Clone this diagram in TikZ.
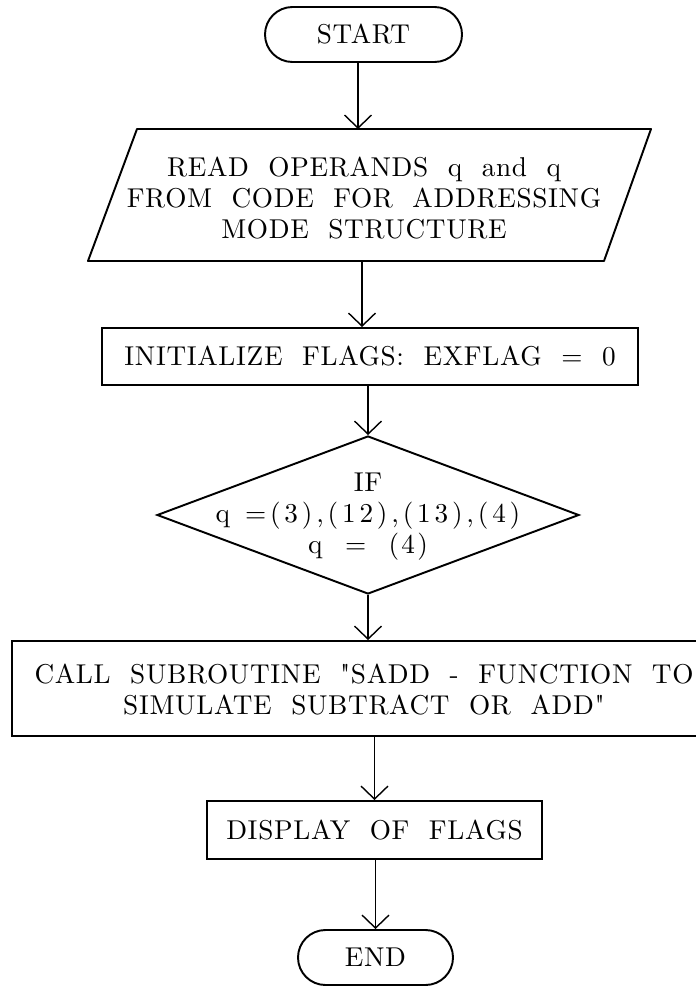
\documentclass[tikz,border=0pt]{standalone}
\usepackage{fontspec}
\usetikzlibrary{arrows.meta,shapes.geometric}

% Spaced-out serif lettering used for all chart labels
\newfontfamily\chartfam{lmroman10-regular.otf}[LetterSpace=2.5,WordSpace=2]
\newcommand\chartfont{\chartfam\fontsize{15.5}{17.6}\selectfont}

\begin{document}
\begin{tikzpicture}[x=0.2mm,y=-0.2mm,
  every node/.style={font=\chartfont, inner sep=0pt},
  terminal/.style={draw, line width=1.1pt, rounded corners=5.5mm, minimum height=11mm},
  procbox/.style={draw, line width=1.1pt},
  decision/.style={draw, diamond, line width=1.1pt},
  outline/.style={line width=1.1pt, line join=round},
  flow/.style={line width=0.8pt, -{Straight Barb[length=2.6mm,width=5.4mm,line width=0.8pt]}},
  label/.style={align=center}
]
\useasboundingbox (0,0) rectangle (695,987);

% Start terminal
\node[terminal, minimum width=39.4mm] (start) at (363.5,34.5) {START};

% Input step (parallelogram)
\coordinate (readtop) at (358,129);
\coordinate (readbot) at (362,261);
\draw[outline] (137,129) -- (651,129) -- (604,261) -- (88,261) -- cycle;
\node[label] (read) at (364,198) {READ OPERANDS q and q\\FROM CODE FOR ADDRESSING\\MODE STRUCTURE};

% Flag initialisation
\node[procbox, minimum width=107.2mm, minimum height=11.4mm] (init) at (370,356.5) {INITIALIZE FLAGS: EXFLAG = 0};

% Decision
\node[decision, minimum width=84.4mm, minimum height=31.6mm] (dec) at (368,515) {};
\node[label] (dectext) at (368,517) {IF\\{\addfontfeature{LetterSpace=14}q\hspace{3mm}=(3),(12),(13),(4)}\\{\addfontfeature{LetterSpace=8}q = (4)}};

% Subroutine call
\node[procbox, minimum width=141.2mm, minimum height=19mm] (call) at (365,688.5) {};
\node[label] (calltext) at (364,690) {CALL SUBROUTINE "SADD - FUNCTION TO\\SIMULATE SUBTRACT OR ADD"};

% Output of flags
\node[procbox, minimum width=67mm, minimum height=11.6mm] (disp) at (374.5,830) {DISPLAY OF FLAGS};

% End terminal
\node[terminal, minimum width=31mm] (end) at (375.5,957.5) {END};

% Connectors
\draw[flow] (start.south -| readtop) -- (readtop);
\draw[flow] (readbot) -- (init.north -| readbot);
\draw[flow] (init.south -| dec.north) -- (dec.north);
\draw[flow] (dec.south) -- (dec.south |- call.north);
\draw[flow] (disp.north |- call.south) -- (disp.north);
\draw[flow] (disp.south -| end.north) -- (end.north);
\end{tikzpicture}
\end{document}
